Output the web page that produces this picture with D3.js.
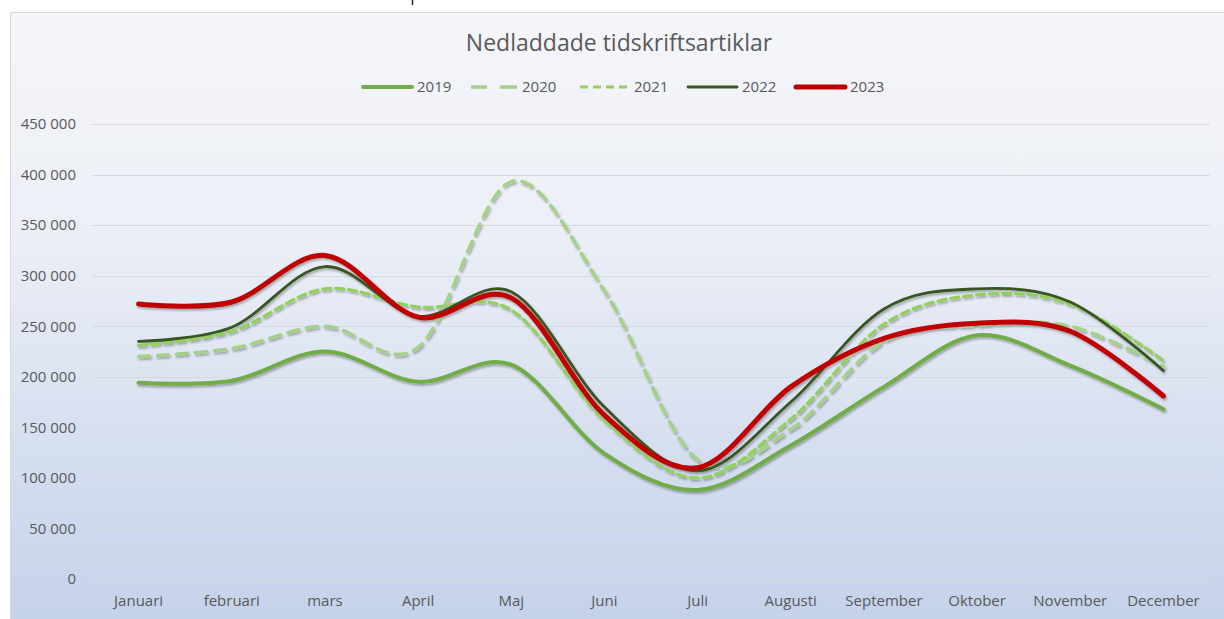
<!DOCTYPE html>
<html>
<head>
<meta charset="utf-8">
<script src="https://cdn.jsdelivr.net/npm/d3@7"></script>
<style>
  body { margin: 0; background: #fff; }
  svg text { font-family: "Open Sans", sans-serif; fill: #595959; }
</style>
</head>
<body>
<div id="chart"></div>
<script>
var months = ["Januari", "februari", "mars", "April", "Maj", "Juni", "Juli", "Augusti", "September", "Oktober", "November", "December"];
var yTicks = [0, 50000, 100000, 150000, 200000, 250000, 300000, 350000, 400000, 450000];

var v2019 = [194000, 196000, 225000, 195000, 212000, 124000, 88000, 132000, 190000, 241000, 211000, 168000];
var v2020 = [220000, 228000, 250000, 229000, 393000, 285000, 118000, 148000, 235000, 251000, 250000, 210000];
var v2021 = [231000, 245000, 287000, 269000, 266000, 157000, 100000, 158000, 252000, 281000, 272000, 216000];
var v2022 = [235000, 249000, 309000, 260000, 284000, 170000, 107000, 175000, 267000, 287000, 274000, 206000];
var v2023 = [272000, 274000, 320000, 259000, 278000, 162000, 110000, 190000, 238000, 253000, 245000, 181000];

var seriesNames = ["2019", "2020", "2021", "2022", "2023"];
var seriesValues = [v2019, v2020, v2021, v2022, v2023];

// line styles per series
var styles = {
	"2019": { color: "#70AD47", width: 4, dash: null },
	"2020": { color: "#A3D187", width: 3.5, dash: "11,8" },
	"2021": { color: "#8FD15A", width: 3.2, dash: "8,5" },
	"2022": { color: "#375623", width: 2.8, dash: null },
	"2023": { color: "#C00000", width: 5, dash: null }
};

var width = 1224, height = 619;
var svg = d3.select("#chart").append("svg")
	.attr("width", width)
	.attr("height", height);

var defs = svg.append("defs");
var grad = defs.append("linearGradient")
	.attr("id", "bg").attr("x1", 0).attr("y1", 0).attr("x2", 0).attr("y2", 1);
grad.append("stop").attr("offset", "0%").attr("stop-color", "#f5f6fa");
grad.append("stop").attr("offset", "35%").attr("stop-color", "#eceff6");
grad.append("stop").attr("offset", "100%").attr("stop-color", "#c3d1ea");

var shadow = defs.append("filter").attr("id", "shadow")
	.attr("x", "-5%").attr("y", "-10%").attr("width", "110%").attr("height", "130%");
shadow.append("feDropShadow")
	.attr("dx", 1.2).attr("dy", 2).attr("stdDeviation", 1.3)
	.attr("flood-color", "#000").attr("flood-opacity", 0.3);

// cursor mark above the chart
svg.append("line")
	.attr("x1", 412.5).attr("x2", 412.5).attr("y1", 0).attr("y2", 5)
	.attr("stroke", "#222").attr("stroke-width", 1.5);

// chart background + border
svg.append("rect")
	.attr("x", 10.5).attr("y", 12.5)
	.attr("width", 1220).attr("height", 620)
	.attr("fill", "url(#bg)")
	.attr("stroke", "#d9d9d9");

var x = d3.scaleBand().domain(months).range([92, 1210]);
var y = d3.scaleLinear().domain([0, 450000]).range([579, 124]);
var fmt = function(d) { return d3.format(",")(d).replace(/,/g, " "); };

// gridlines
svg.append("g")
	.selectAll("line")
	.data(yTicks)
	.enter()
	.append("line")
	.attr("x1", 92).attr("x2", 1210)
	.attr("y1", function(d) { return Math.round(y(d)) + 0.5; })
	.attr("y2", function(d) { return Math.round(y(d)) + 0.5; })
	.attr("stroke", "#d6d9de")
	.attr("stroke-width", 1);

// y axis labels
var yAxis = svg.append("g")
	.attr("transform", "translate(82,0)")
	.call(d3.axisLeft(y).tickValues(yTicks).tickFormat(fmt).tickSize(0).tickPadding(6));
yAxis.select(".domain").remove();
yAxis.selectAll("text")
	.style("font-size", "15px")
	.attr("fill", "#595959");

// x axis labels
var xAxis = svg.append("g")
	.attr("transform", "translate(0,579)")
	.call(d3.axisBottom(x).tickSize(0).tickPadding(16));
xAxis.select(".domain").remove();
xAxis.selectAll("text")
	.style("font-size", "15px")
	.attr("fill", "#595959");

// title
svg.append("text")
	.attr("x", 619).attr("y", 51)
	.attr("text-anchor", "middle")
	.style("font-size", "23px")
	.text("Nedladdade tidskriftsartiklar");

// lines
var line = d3.line()
	.x(function(d, i) { return x(months[i]) + x.bandwidth() / 2; })
	.y(function(d) { return y(d); })
	.curve(d3.curveCardinal.tension(0));

var lines = svg.append("g").attr("filter", "url(#shadow)");
seriesNames.forEach(function(name, k) {
	var st = styles[name];
	lines.append("path")
		.datum(seriesValues[k])
		.attr("d", line)
		.attr("fill", "none")
		.attr("stroke", st.color)
		.attr("stroke-width", st.width)
		.attr("stroke-linecap", "round")
		.attr("stroke-linejoin", "round")
		.attr("stroke-dasharray", st.dash);
});

// legend
var legendX = [363, 468, 580, 688, 796];
var legend = svg.append("g");
seriesNames.forEach(function(name, k) {
	var st = styles[name];
	var lx = legendX[k];
	legend.append("line")
		.attr("x1", lx).attr("x2", lx + 49)
		.attr("y1", 87).attr("y2", 87)
		.attr("stroke", st.color)
		.attr("stroke-width", st.width)
		.attr("stroke-linecap", st.dash ? "butt" : "round")
		.attr("stroke-dasharray", name == "2020" ? "0,3,16,13,16" : st.dash);
	legend.append("text")
		.attr("x", lx + 54).attr("y", 92)
		.style("font-size", "15px")
		.text(name);
});
</script>
</body>
</html>
